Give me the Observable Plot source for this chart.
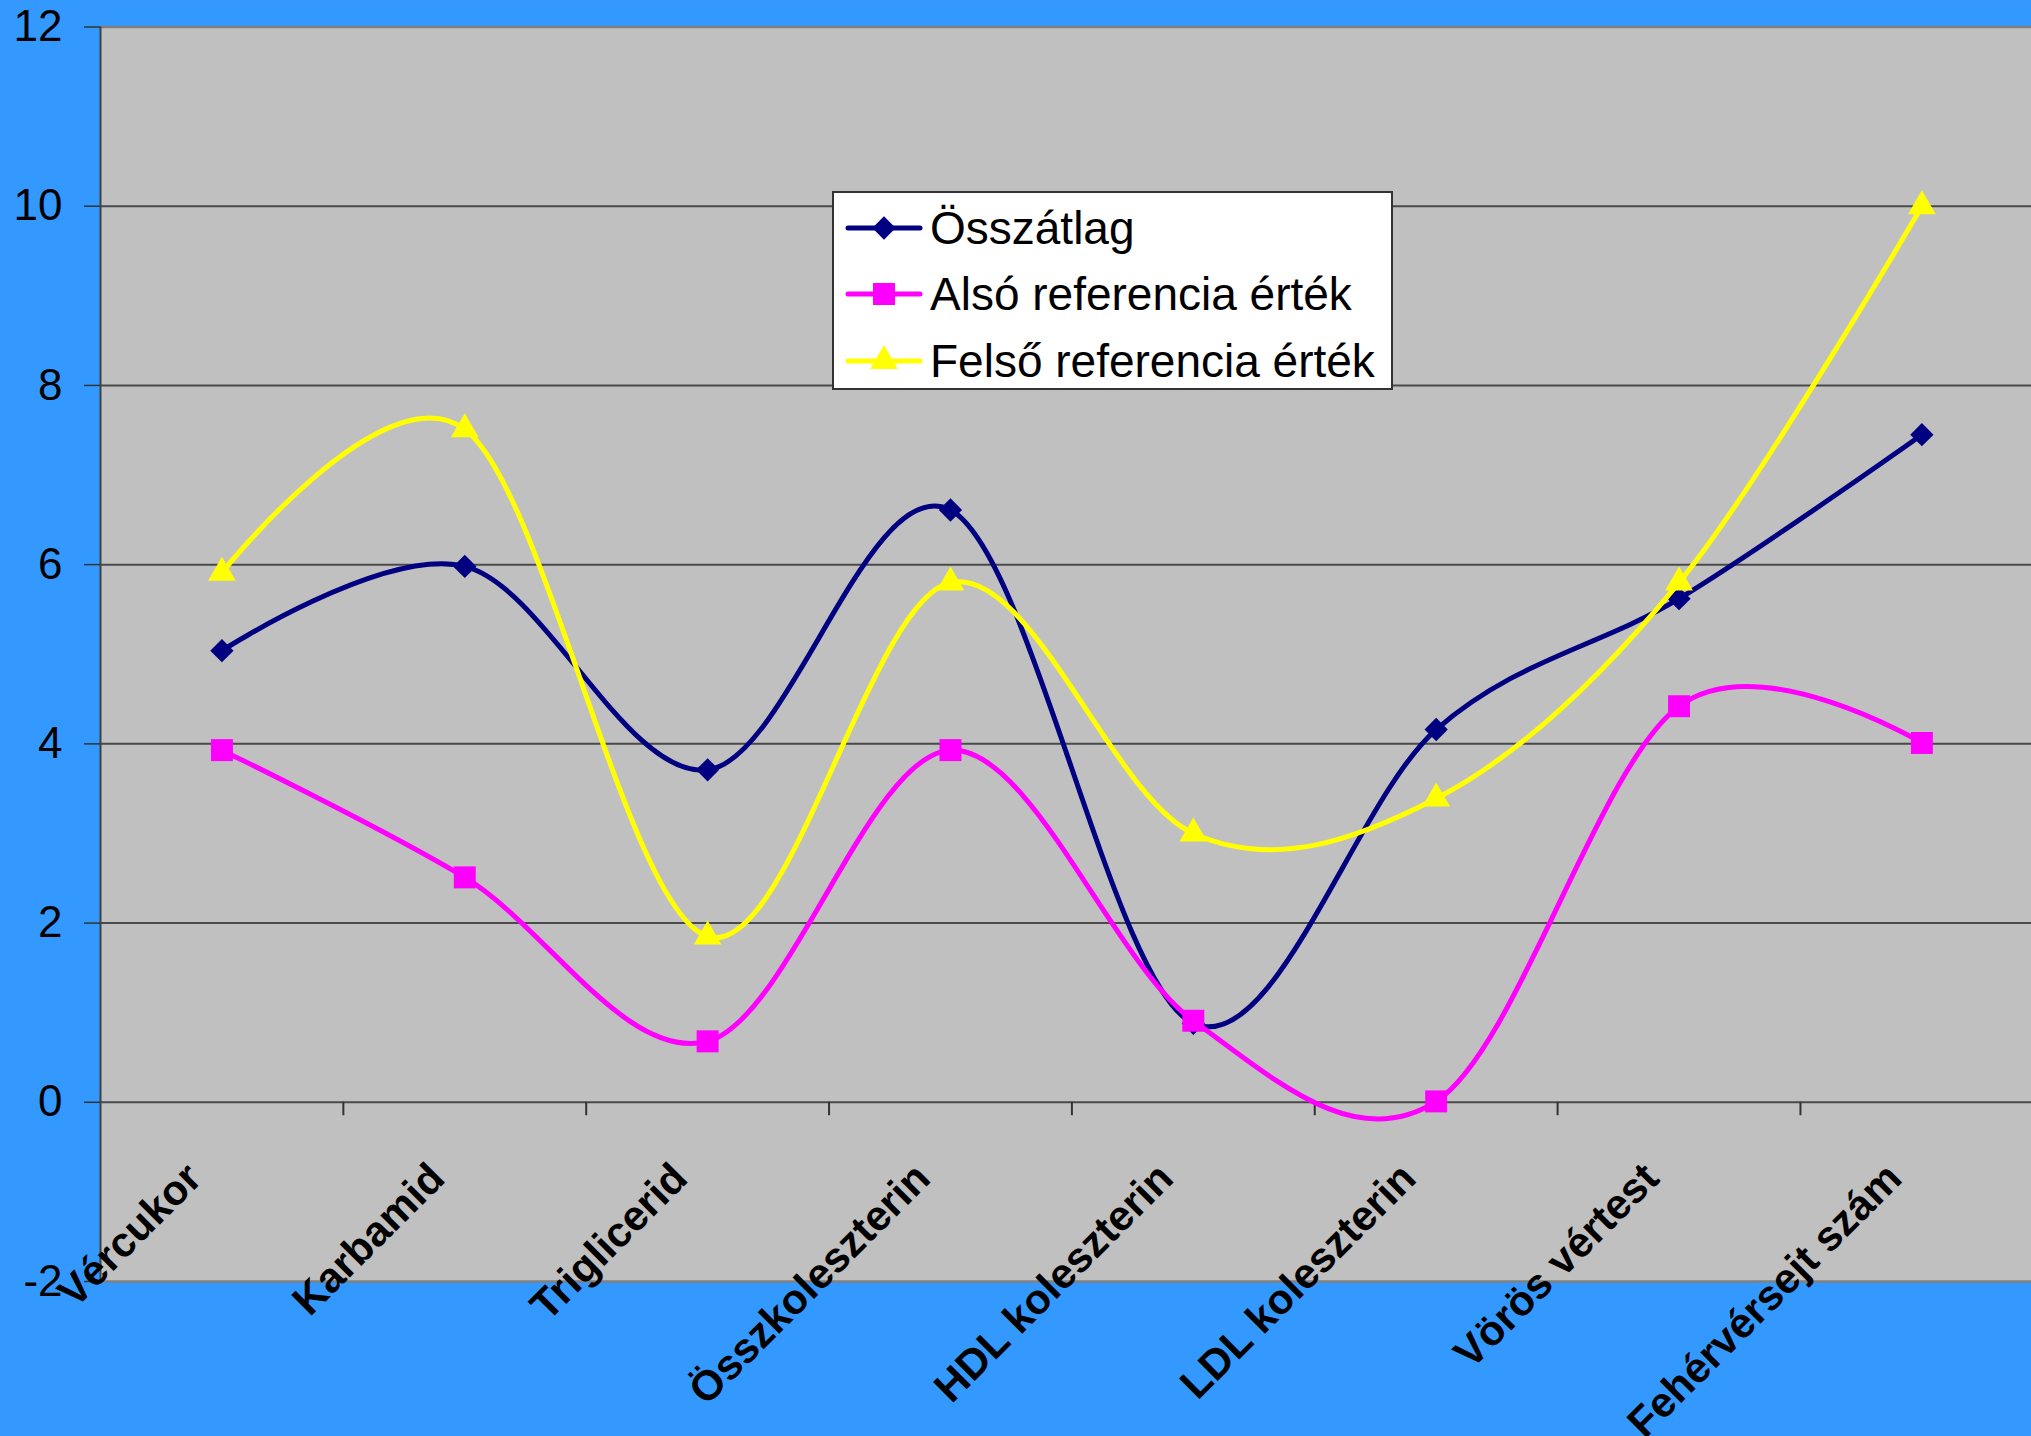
<!DOCTYPE html>
<html><head><meta charset="utf-8">
<script src="https://cdn.jsdelivr.net/npm/d3@7"></script>
<script src="https://cdn.jsdelivr.net/npm/@observablehq/plot@0.6"></script>
<style>
html,body{margin:0;padding:0;background:#3399FF;overflow:hidden;}
#wrap{position:relative;width:2031px;height:1436px;overflow:hidden;}
#legend{position:absolute;left:832px;top:191px;width:557px;height:195px;background:#fff;border:2px solid #333;}
svg{font-family:"Liberation Sans",Arial,sans-serif;}
</style></head><body><div id="wrap"><div id="legend"></div></div>
<script>
const categories = ["Vércukor","Karbamid","Triglicerid","Összkoleszterin","HDL koleszterin","LDL koleszterin","Vörös vértest","Fehérvérsejt szám"];
const osszatlag = [5.04,5.98,3.71,6.61,0.88,4.16,5.62,7.45];
const also = [3.93,2.51,0.68,3.93,0.91,0.01,4.42,4.01];
const felso = [5.91,7.51,1.85,5.80,3.00,3.39,5.80,10.0];
const seriesNames = ["Összátlag","Alsó referencia érték","Felső referencia érték"];
const seriesColors = ["#000080","#FF00FF","#FFFF00"];
const seriesSymbols = ["diamond2","square","triangle"];
const symbolR = [10.5,12.4,10.3];
const yTicks = [-2,0,2,4,6,8,10,12];
const gridValues = [0,2,4,6,8,10];

const seriesValues = [osszatlag, also, felso];
const idx = categories.map((c,i)=>i);
const between = idx.slice(0,-1).map(i=>i+0.5);

const marks = [
  Plot.rect([0], {x1: -0.5, x2: 7.5, y1: -2, y2: 12, fill: "#C0C0C0"}),
  Plot.ruleY(gridValues, {x1: -0.5, x2: 7.5, stroke: "#4a4a4a", strokeWidth: 2}),
  Plot.ruleY([12, -2], {x1: -0.5, x2: 7.5, stroke: "#808080", strokeWidth: 2.5}),
  Plot.ruleX(between, {y1: 0, y2: -0.15, stroke: "#333", strokeWidth: 2}),
  Plot.ruleX([-0.5], {y1: -2, y2: 12, stroke: "#404040", strokeWidth: 2}),
  Plot.axisY(yTicks, {tickSize: 16, tickPadding: 22, fontSize: 44, stroke: "#333", strokeWidth: 1.5, fill: "black", tickFormat: d => String(d), label: null}),
  Plot.text(categories, {x: (d,i)=>i, y: -2, text: d=>d, rotate: -45, textAnchor: "end", lineAnchor: "bottom", dx: -18, dy: -101, fontSize: 42, fontWeight: "bold", fill: "black"})
];
seriesValues.forEach((vals, s) => {
  const rows = vals.map((v,i)=>({i, v}));
  marks.push(Plot.line(rows, {x: "i", y: "v", stroke: seriesColors[s], strokeWidth: 5, curve: "cardinal", tension: 0}));
  marks.push(Plot.dot(rows, {x: "i", y: "v", symbol: seriesSymbols[s], r: symbolR[s], fill: seriesColors[s], stroke: "none"}));
});

const chart = Plot.plot({
  width: 2031, height: 1436,
  marginLeft: 100, marginRight: 0, marginTop: 26.5, marginBottom: 155,
  style: {background: "#3399FF", fontFamily: "Liberation Sans, Arial, sans-serif", overflow: "hidden"},
  x: {domain: [-0.5, 7.5], range: [100, 2042.8], axis: null, label: null},
  y: {domain: [-2, 12], range: [1281, 26.5], axis: null, label: null},
  marks
});
document.getElementById("wrap").prepend(chart);

// legend
const lg = d3.select("#legend").append("svg").attr("width", 557).attr("height", 195)
  .style("font-family", "Liberation Sans, Arial, sans-serif");
const rowY = [35, 101, 168];
const rowsG = lg.selectAll("g").data(seriesNames).join("g")
  .attr("transform", (d,i)=>`translate(0,${rowY[i]})`);
rowsG.append("line").attr("x1", 14).attr("x2", 86).attr("y1", 0).attr("y2", 0)
  .attr("stroke", (d,i)=>seriesColors[i]).attr("stroke-width", 5).attr("stroke-linecap","round");
rowsG.append("path").attr("transform","translate(50,0)")
  .attr("d", (d,i)=>{
    const sym = [d3.symbolDiamond2, d3.symbolSquare, d3.symbolTriangle][i];
    return d3.symbol(sym, Math.PI*symbolR[i]*symbolR[i])();
  }).attr("fill", (d,i)=>seriesColors[i]);
rowsG.append("text").attr("x", 96).attr("y", 16).attr("font-size", 46).attr("fill","black").text(d=>d);
</script></body></html>
